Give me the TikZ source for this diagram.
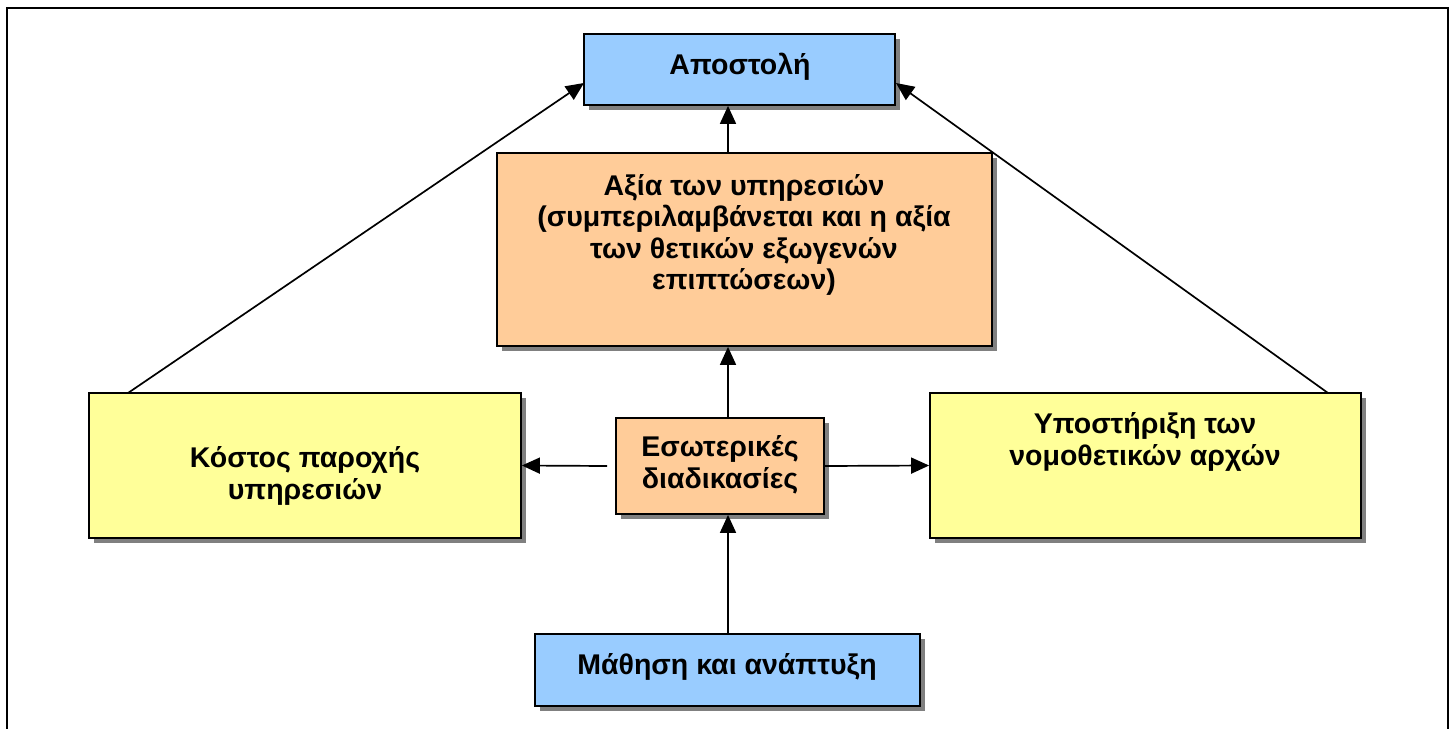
\documentclass[tikz,border=0pt]{standalone}
\usepackage{fontspec}
\setmainfont{Liberation Sans}
\usetikzlibrary{arrows.meta,shadows}
\definecolor{cblue}{HTML}{99CCFF}
\definecolor{corange}{HTML}{FFCC99}
\definecolor{cyellow}{HTML}{FFFF99}
\definecolor{cshadow}{HTML}{808080}
\tikzset{
  boxbase/.style={draw=black, line width=1.8pt, rectangle, inner sep=0pt,
    drop shadow={fill=cshadow, opacity=1, shadow xshift=5pt, shadow yshift=-5pt}},
  txt/.style={align=center, font=\bfseries\fontsize{28.5}{31.5}\selectfont, inner sep=0pt},
  arr/.style={line width=1.7pt, -{Triangle[length=18pt,width=16pt]}},
}
\begin{document}
\begin{tikzpicture}[x=1pt,y=-1pt]
\useasboundingbox (0,0) rectangle (1455,728);
\fill[white] (0,0) rectangle (1455,728);
% outer frame
\draw[line width=2.5pt] (7,760) -- (7,8) -- (1448,8) -- (1448,760);
% boxes
\node[boxbase, fill=cblue, minimum width=311pt, minimum height=71pt] (apost) at (739.5,69.5) {};
\node[boxbase, fill=corange, minimum width=495pt, minimum height=193pt] (axia) at (744.5,249.5) {};
\node[boxbase, fill=cyellow, minimum width=432pt, minimum height=145pt] (kostos) at (305,465.5) {};
\node[boxbase, fill=corange, minimum width=208pt, minimum height=96pt] (esot) at (720,466) {};
\node[boxbase, fill=cyellow, minimum width=431pt, minimum height=145pt] (ypost) at (1145.5,465.5) {};
\node[boxbase, fill=cblue, minimum width=385pt, minimum height=72pt] (math) at (727.5,670) {};
% texts
\node[txt] (apostT) at (740,67) {Αποστολή};
\node[txt] (axiaT) at (744,235) {Αξία των υπηρεσιών\\(συμπεριλαμβάνεται και η αξία\\των θετικών εξωγενών\\επιπτώσεων)};
\node[txt] (kostosT) at (305,476) {Κόστος παροχής\\υπηρεσιών};
\node[txt] (esotT) at (720,465) {Εσωτερικές\\διαδικασίες};
\node[txt] (ypostT) at (1145,442) {Υποστήριξη των\\νομοθετικών αρχών};
\node[txt] (mathT) at (727,667) {Μάθηση και ανάπτυξη};
% connectors
\coordinate (kstart) at (128,393);
\coordinate (ystart) at (1328,393);
\coordinate (aL) at (584,83);
\coordinate (aR) at (896,83);
\draw[arr] (kstart) -- (aL);
\draw[arr] (ystart) -- (aR);
\draw[arr] (axia.north -| 728,0) -- (apost.south -| 728,0);
\draw[arr] (esot.north -| 728,0) -- (axia.south -| 728,0);
\draw[arr] (math.north -| 728,0) -- (esot.south -| 728,0);
\draw[arr] ([xshift=-8pt]esot.west) -- (kostos.east);
\draw[arr] (esot.east) -- (ypost.west);
\end{tikzpicture}
\end{document}
